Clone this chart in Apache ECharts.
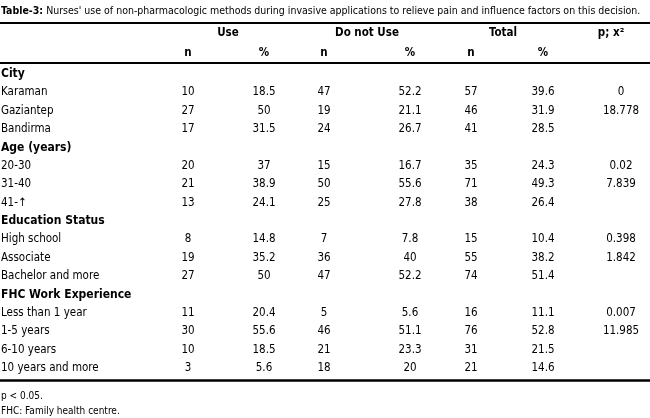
<!DOCTYPE html>
<html>
<head>
<meta charset="utf-8">
<script src="https://cdn.jsdelivr.net/npm/echarts@6/dist/echarts.min.js"></script>
<style>
  html, body { margin: 0; padding: 0; background: #fff; }
  #table3 { width: 650px; height: 418px; }
</style>
</head>
<body>
<div id="table3"></div>
<script>
// table values
const rowLabels = ['City', 'Karaman', 'Gaziantep', 'Bandirma',
    'Age (years)', '20-30', '31-40', '41-\u2191',
    'Education Status', 'High school', 'Associate', 'Bachelor and more',
    'FHC Work Experience', 'Less than 1 year', '1-5 years', '6-10 years', '10 years and more'];
const groupRows = ['City', 'Age (years)', 'Education Status', 'FHC Work Experience'];
const useN    = [null, 10, 27, 17, null, 20, 21, 13, null, 8, 19, 27, null, 11, 30, 10, 3];
const usePct  = [null, 18.5, 50, 31.5, null, 37, 38.9, 24.1, null, 14.8, 35.2, 50, null, 20.4, 55.6, 18.5, 5.6];
const notN    = [null, 47, 19, 24, null, 15, 50, 25, null, 7, 36, 47, null, 5, 46, 21, 18];
const notPct  = [null, 52.2, 21.1, 26.7, null, 16.7, 55.6, 27.8, null, 7.8, 40, 52.2, null, 5.6, 51.1, 23.3, 20];
const totN    = [null, 57, 46, 41, null, 35, 71, 38, null, 15, 55, 74, null, 16, 76, 31, 21];
const totPct  = [null, 39.6, 31.9, 28.5, null, 24.3, 49.3, 26.4, null, 10.4, 38.2, 51.4, null, 11.1, 52.8, 21.5, 14.6];
const pChi    = [null, '0', '18.778', null, null, '0.02', '7.839', null, null, '0.398', '1.842', null, null, '0.007', '11.985', null, null];
const headTop = ['Use', 'Do not Use', 'Total', 'p; x\u00b2'];
const headSub = ['n', '%', 'n', '%', 'n', '%'];

// layout (column centres along the x scale)
const FONT = '"DejaVu Sans Condensed", "Liberation Sans Narrow", sans-serif';
const INK = '#000';
const labelX = 1;
const colX = [188, 264, 324, 410, 471, 543, 621];
const headX = [228, 367, 503, 611];

const chart = echarts.init(document.getElementById('table3'));

// one text column drawn as invisible scatter points with labels
function textSeries(name, grid, points, style) {
    return {
        name: name,
        type: 'scatter',
        xAxisIndex: grid === 0 ? 0 : 1,
        yAxisIndex: grid,
        symbolSize: 1,
        itemStyle: { color: 'transparent', opacity: 1 },
        silent: true,
        data: points,
        label: Object.assign({
            show: true,
            position: 'inside',
            color: INK,
            fontFamily: FONT,
            fontSize: 11.5,
            formatter: function (p) { return p.value[2]; }
        }, style || {})
    };
}

function column(x, values, filter) {
    const out = [];
    values.forEach(function (v, i) {
        if (v != null && (!filter || filter(v))) out.push([x, i, String(v)]);
    });
    return out;
}

const isGroup = function (r) { return groupRows.indexOf(r) >= 0; };

const series = [
    textSeries('headTop', 0, headTop.map(function (t, i) { return [headX[i], 0, t]; }), { fontWeight: 'bold' }),
    textSeries('headSub', 0, headSub.map(function (t, i) { return [colX[i], 1, t]; }), { fontWeight: 'bold' }),
    textSeries('rows', 1, column(labelX, rowLabels, function (r) { return !isGroup(r); }), { align: 'left' }),
    textSeries('groups', 1, column(labelX, rowLabels, isGroup), { align: 'left', fontWeight: 'bold', fontSize: 12 })
];

[useN, usePct, notN, notPct, totN, totPct, pChi].forEach(function (col, c) {
    series.push(textSeries('col' + c, 1, column(colX[c], col)));
});

function rule(grid, pos, width) {
    return {
        gridIndex: grid, type: 'value', min: 0, max: 650, position: pos,
        axisLine: { show: true, onZero: false, lineStyle: { color: INK, width: width } },
        axisTick: { show: false }, axisLabel: { show: false }, splitLine: { show: false }
    };
}

const option = {
    animation: false,
    title: [{
        left: 1,
        top: 6,
        padding: 0,
        text: '{b|Table-3:} Nurses\' use of non-pharmacologic methods during invasive applications to relieve pain and influence factors on this decision.',
        textStyle: {
            fontFamily: FONT,
            fontSize: 10.5,
            fontWeight: 'normal',
            color: INK,
            rich: {
                b: { fontFamily: FONT, fontSize: 10.5, fontWeight: 'bold', color: INK }
            }
        }
    }, {
        left: 1,
        top: 389,
        padding: 0,
        text: 'p < 0.05.\nFHC: Family health centre.',
        textStyle: {
            fontFamily: FONT,
            fontSize: 10,
            fontWeight: 'normal',
            lineHeight: 15,
            color: INK
        }
    }],
    grid: [
        { left: 0, right: 0, top: 23, height: 40 },
        { left: 0, right: 0, top: 63, height: 317 }
    ],
    xAxis: [
        rule(0, 'top', 2),
        rule(1, 'top', 2),
        rule(1, 'bottom', 2.5)
    ],
    yAxis: [
        { gridIndex: 0, type: 'value', inverse: true, min: -0.5, max: 1.5, show: false },
        { gridIndex: 1, type: 'value', inverse: true, min: -0.6, max: 16.65, show: false }
    ],
    series: series
};
chart.setOption(option);
</script>
</body>
</html>
